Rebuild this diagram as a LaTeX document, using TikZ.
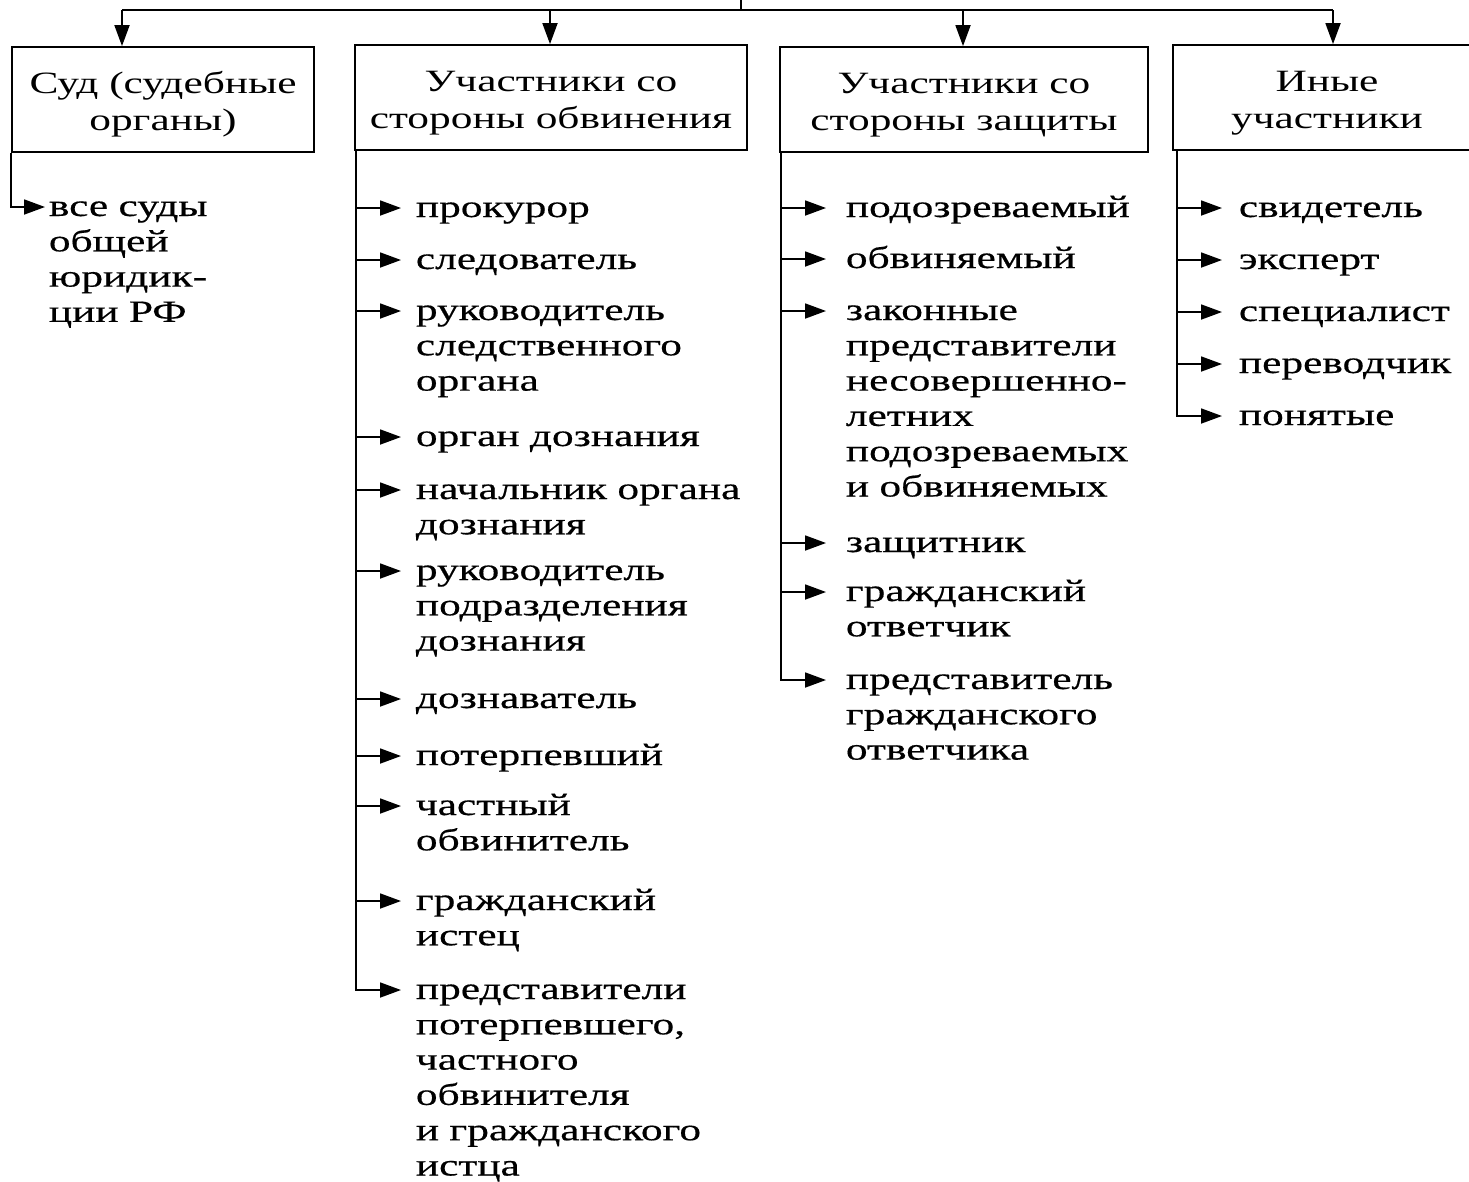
\documentclass[tikz,border=0pt]{standalone}
\usepackage{fontspec}
\setmainfont{Liberation Serif}
\newfontfamily\hdfont{Liberation Serif}[FakeStretch=1.40]
\newfontfamily\itfont{Liberation Serif}[FakeStretch=1.40,FakeBold=0.5]
\usetikzlibrary{arrows.meta,calc}
\newcommand\hdstrut{\rule{0pt}{32pt}}
\newcommand\mkitem[6]{% name, trunk, text x, arrow y, gap, text
  \node[itm] (#1) at (#3,#4+9) {#6};
  \coordinate (#1a) at ($(#1.base west)+(-#5,-9)$);
  \draw[arr] (#2 |- #1a) -- (#1a);}
\newcommand\mklast[6]{% name, trunk, text x, arrow y, gap, text
  \node[itm] (#1) at (#3,#4+9) {#6};
  \coordinate (#1a) at ($(#1.base west)+(-#5,-9)$);
  \draw[arr] (#2) |- (#1a);}
\begin{document}
\begin{tikzpicture}[x=1pt,y=-1pt,line width=1.8pt,
  arr/.style={-{Triangle[length=21pt,width=15pt]}},
  box/.style={draw,inner sep=0pt,minimum height=105pt,align=center,
    font=\hdfont\fontsize{31}{37}\selectfont},
  itm/.style={inner sep=0pt,anchor=base west,text width=430pt,align=left,
    font=\itfont\fontsize{31}{35.3}\selectfont}]
\useasboundingbox (0,0) rectangle (1469,1181);
% boxes
\node[box,minimum width=302pt] (b1) at (163,99.5) {\hdstrut Суд (судебные\\органы)};
\node[box,minimum width=392pt] (b2) at (551,97.5) {\hdstrut Участники со\\стороны обвинения};
\node[box,minimum width=368pt] (b3) at (964,99.5) {\hdstrut Участники со\\стороны защиты};
\node[box,minimum width=308pt] (b4) at (1327,97.5) {\hdstrut Иные\\участники};
% top distribution
\coordinate (top) at (741,0);
\coordinate (hub) at (741,10);
\coordinate (h1) at (122,10);
\coordinate (h2) at (550,10);
\coordinate (h3) at (963,10);
\coordinate (h4) at (1333,10);
\draw (top) -- (hub);
\draw (h1) -- (h4);
\draw[arr] (h1) -- (h1 |- b1.north);
\draw[arr] (h2) -- (h2 |- b2.north);
\draw[arr] (h3) -- (h3 |- b3.north);
\draw[arr] (h4) -- (h4 |- b4.north);
% trunks
\coordinate (t1) at ($(b1.south west)+(0,0)$);
\coordinate (t2) at ($(b2.south west)+(2,0)$);
\coordinate (t3) at ($(b3.south west)+(2,0)$);
\coordinate (t4) at ($(b4.south west)+(5,0)$);
% column 1
\mklast{c1}{t1}{48}{207}{3}{все суды\\общей\\юридик-\\ции РФ}
% column 2
\mkitem{p1}{t2}{415}{208}{14}{прокурор}
\mkitem{p2}{t2}{415}{260}{14}{следователь}
\mkitem{p3}{t2}{415}{311}{14}{руководитель\\следственного\\органа}
\mkitem{p4}{t2}{415}{437}{14}{орган дознания}
\mkitem{p5}{t2}{415}{490}{14}{начальник органа\\дознания}
\mkitem{p6}{t2}{415}{571}{14}{руководитель\\подразделения\\дознания}
\mkitem{p7}{t2}{415}{699}{14}{дознаватель}
\mkitem{p8}{t2}{415}{756}{14}{потерпевший}
\mkitem{p9}{t2}{415}{806}{14}{частный\\обвинитель}
\mkitem{p10}{t2}{415}{901}{14}{гражданский\\истец}
\mklast{p11}{t2}{415}{990}{14}{представители\\потерпевшего,\\частного\\обвинителя\\и гражданского\\истца}
% column 3
\mkitem{d1}{t3}{845}{208}{19}{подозреваемый}
\mkitem{d2}{t3}{845}{259}{19}{обвиняемый}
\mkitem{d3}{t3}{845}{311}{19}{законные\\представители\\несовершенно-\\летних\\подозреваемых\\и обвиняемых}
\mkitem{d4}{t3}{845}{543}{19}{защитник}
\mkitem{d5}{t3}{845}{592}{19}{гражданский\\ответчик}
\mklast{d6}{t3}{845}{680}{19}{представитель\\гражданского\\ответчика}
% column 4
\mkitem{o1}{t4}{1238}{208}{16}{свидетель}
\mkitem{o2}{t4}{1238}{260}{16}{эксперт}
\mkitem{o3}{t4}{1238}{312}{16}{специалист}
\mkitem{o4}{t4}{1238}{364}{16}{переводчик}
\mklast{o5}{t4}{1238}{416}{16}{понятые}
\end{tikzpicture}
\end{document}
